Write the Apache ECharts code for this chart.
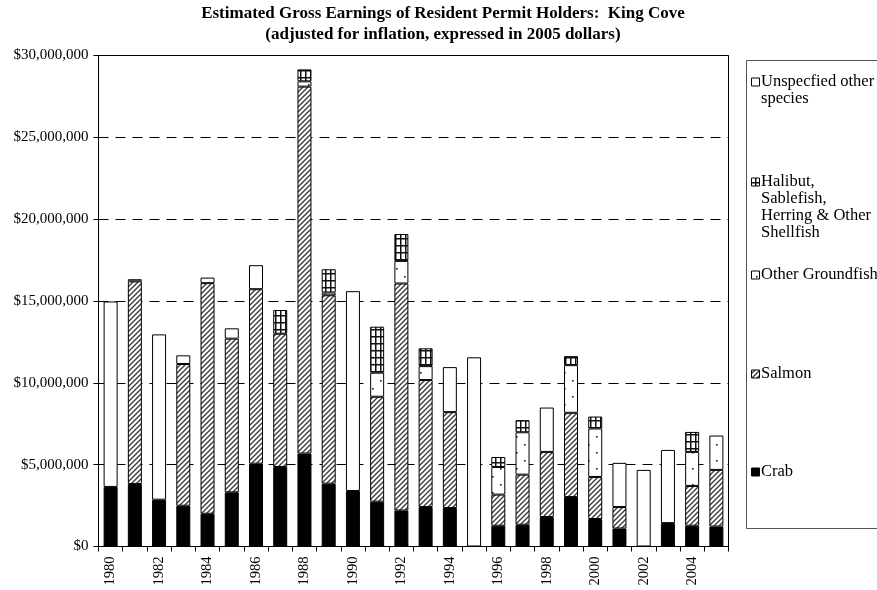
<!DOCTYPE html>
<html>
<head>
<meta charset="utf-8">
<script src="https://cdn.jsdelivr.net/npm/echarts@6/dist/echarts.min.js"></script>
<style>
  html, body { margin: 0; padding: 0; background: #fff; }
  #chart { width: 877px; height: 590px; }
</style>
</head>
<body>
<div id="chart"></div>
<script>
// King Cove resident permit holder earnings by species group (2005 dollars)
const years = ['1980','1981','1982','1983','1984','1985','1986','1987','1988','1989',
  '1990','1991','1992','1993','1994','1995','1996','1997','1998','1999',
  '2000','2001','2002','2003','2004','2005'];

const crab = [3640000, 3820000, 2860000, 2490000, 2000000, 3310000, 5060000, 4860000, 5680000, 3840000,
  3390000, 2740000, 2200000, 2410000, 2350000, null, 1270000, 1330000, 1800000, 3020000,
  1680000, 1100000, null, 1430000, 1270000, 1220000];

const salmon = [null, 12380000, null, 8660000, 14090000, 9390000, 10660000, 8140000, 22420000, 11510000,
  null, 6410000, 13870000, 7760000, 5860000, null, 1900000, 3060000, 3980000, 5150000,
  2570000, 1310000, null, null, 2430000, 3460000];

const otherGroundfish = [null, null, null, null, null, null, null, null, 320000, 170000,
  null, 1470000, 1380000, 850000, null, null, 1690000, 2590000, null, 2910000,
  2960000, null, null, null, 2080000, 2100000];

const halibutEtc = [null, null, null, null, null, null, null, 1450000, 730000, 1420000,
  null, 2810000, 1640000, 1090000, null, null, 610000, 740000, null, 550000,
  730000, null, null, null, 1220000, null];

const unspecified = [11330000, 130000, 10100000, 530000, 340000, 630000, 1470000, null, null, null,
  12210000, null, null, null, 2750000, 11560000, null, null, 2710000, null,
  null, 2700000, 4680000, 4470000, null, null];

const yTicks = { min: 0, max: 30000000, step: 5000000 };

const SERIF = '"Liberation Serif", "Times New Roman", serif';

// ---- fill patterns ----
function makeCanvas(w, h, draw) {
  const c = document.createElement('canvas');
  c.width = w; c.height = h;
  const g = c.getContext('2d');
  g.fillStyle = '#fff';
  g.fillRect(0, 0, w, h);
  draw(g, w, h);
  return c;
}
const hatchCanvas = makeCanvas(5, 5, (g, w, h) => {
  g.strokeStyle = '#3c3c3c';
  g.lineWidth = 1.4;
  g.beginPath();
  g.moveTo(-1, h + 1); g.lineTo(w + 1, -1);
  g.moveTo(-1, 1); g.lineTo(1, -1);
  g.moveTo(w - 1, h + 1); g.lineTo(w + 1, h - 1);
  g.stroke();
});
const dotCanvas = makeCanvas(16, 16, (g) => {
  g.fillStyle = '#222';
  g.fillRect(4, 4, 1.6, 1.6);
  g.fillRect(12, 12, 1.6, 1.6);
});
const gridCanvas = makeCanvas(5, 7, (g, w, h) => {
  g.fillStyle = '#111';
  g.fillRect(0, 0, 1.5, h);
  g.fillRect(0, 0, w, 1.5);
});
const hatch = { image: hatchCanvas, repeat: 'repeat' };
const dots = { image: dotCanvas, repeat: 'repeat' };
const grid = { image: gridCanvas, repeat: 'repeat' };

const BAR_W = 14;
function barSeries(name, data, fill) {
  return {
    name: name,
    type: 'bar',
    stack: 'total',
    barWidth: BAR_W,
    data: data,
    itemStyle: { color: fill, borderColor: '#000', borderWidth: 1 },
    emphasis: { disabled: true }
  };
}

// ---- legend drawn as a boxed column of entries ----
const legendEntries = [
  { label: 'Unspecfied other\nspecies', fill: '#fff', cy: 82 },
  { label: 'Halibut,\nSablefish,\nHerring & Other\nShellfish', fill: grid, cy: 182 },
  { label: 'Other Groundfish', fill: dots, cy: 275 },
  { label: 'Salmon', fill: hatch, cy: 374 },
  { label: 'Crab', fill: '#000', cy: 472 }
];
const LEG_FONT = 16.5;
const LEG_LINE = 16.8;
const legendGraphics = [{
  type: 'rect',
  shape: { x: 746.5, y: 60.5, width: 160, height: 468 },
  style: { fill: '#fff', stroke: '#555', lineWidth: 1 },
  z: 10
}];
legendEntries.forEach(e => {
  legendGraphics.push({
    type: 'rect',
    shape: { x: 751.5, y: e.cy - 4, width: 8, height: 8 },
    style: { fill: e.fill, stroke: '#000', lineWidth: 1 },
    z: 11
  });
  legendGraphics.push({
    type: 'text',
    x: 761,
    y: e.cy - LEG_LINE / 2,
    style: {
      text: e.label,
      font: LEG_FONT + 'px ' + SERIF,
      fill: '#000',
      lineHeight: LEG_LINE,
      verticalAlign: 'top',
      align: 'left'
    },
    z: 11
  });
});

const chart = echarts.init(document.getElementById('chart'), null, { renderer: 'canvas' });
chart.setOption({
  animation: false,
  backgroundColor: '#fff',
  title: {
    text: 'Estimated Gross Earnings of Resident Permit Holders:  King Cove\n(adjusted for inflation, expressed in 2005 dollars)',
    left: 443,
    top: 3,
    padding: 0,
    textAlign: 'center',
    textStyle: {
      fontFamily: SERIF,
      fontWeight: 'bold',
      fontSize: 17,
      lineHeight: 21,
      color: '#000'
    }
  },
  grid: {
    left: 98.5,
    right: 148.5,
    top: 55.5,
    bottom: 43.5,
    show: true,
    borderColor: '#000',
    borderWidth: 1,
    backgroundColor: 'transparent'
  },
  xAxis: {
    type: 'category',
    data: years,
    boundaryGap: true,
    axisLine: { lineStyle: { color: '#000', width: 1 } },
    axisTick: { show: true, interval: 0, length: 5, inside: false, alignWithLabel: false, lineStyle: { color: '#000' } },
    axisLabel: {
      interval: 1,
      rotate: 90,
      margin: 10,
      fontFamily: SERIF,
      fontSize: 14.5,
      color: '#000'
    },
    splitLine: { show: false }
  },
  yAxis: {
    type: 'value',
    min: yTicks.min,
    max: yTicks.max,
    interval: yTicks.step,
    axisLine: { show: true, lineStyle: { color: '#000', width: 1 } },
    axisTick: { show: true, length: 5, inside: false, lineStyle: { color: '#000' } },
    axisLabel: {
      margin: 10,
      fontFamily: SERIF,
      fontSize: 15,
      color: '#000',
      formatter: v => '$' + v.toLocaleString('en-US')
    },
    splitLine: { show: true, lineStyle: { color: '#000', width: 1, type: [10, 7] } }
  },
  series: [
    barSeries('Crab', crab, '#000'),
    barSeries('Salmon', salmon, hatch),
    barSeries('Other Groundfish', otherGroundfish, dots),
    barSeries('Halibut, Sablefish, Herring & Other Shellfish', halibutEtc, grid),
    barSeries('Unspecfied other species', unspecified, '#fff')
  ],
  graphic: legendGraphics
});
</script>
</body>
</html>
